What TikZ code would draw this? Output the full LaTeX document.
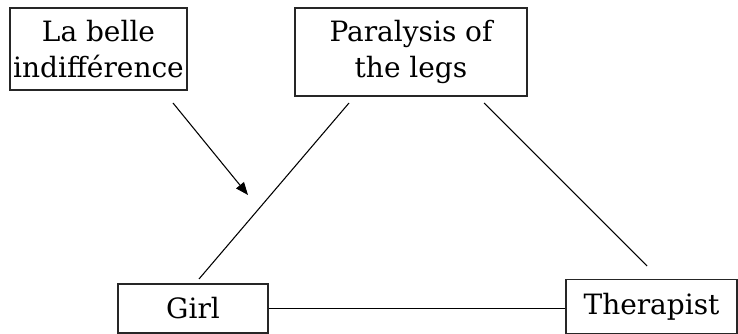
\documentclass[tikz,border=0pt]{standalone}
\usepackage{fontspec}
\setmainfont{DejaVu Serif}
\usetikzlibrary{arrows.meta}
\begin{document}
\begin{tikzpicture}[x=0.75pt,y=-0.75pt,
  box/.style={draw=black!85,line width=0.8pt,inner sep=0pt,align=center,
    font=\fontsize{21}{26.5}\selectfont},
  conn/.style={line width=0.8pt},
  arr/.style={line width=0.8pt,-{Triangle[length=9.5pt,width=7.5pt]}}]
\useasboundingbox (0,0) rectangle (738,334);
\node[box,minimum width=132.75pt,minimum height=61.5pt] (belle) at (98.5,49) {La belle\\indifférence};
\node[box,minimum width=174pt,minimum height=66pt] (para) at (411,52) {Paralysis of\\the legs};
\node[box,minimum width=112.5pt,minimum height=36.75pt] (girl) at (193,308.5) {Girl};
\node[box,minimum width=128.25pt,minimum height=40.5pt] (ther) at (651.5,306.5) {Therapist};
\coordinate (a1) at (173,103);
\coordinate (a2) at (248,195);
\coordinate (p1) at (349,103);
\coordinate (g1) at (199,279);
\coordinate (p2) at (484,103);
\coordinate (t1) at (647,266);
\draw[arr] (a1) -- (a2);
\draw[conn] (p1) -- (g1);
\draw[conn] (p2) -- (t1);
\draw[conn] (girl.east) -- (girl.east -| ther.west);
\end{tikzpicture}
\end{document}
